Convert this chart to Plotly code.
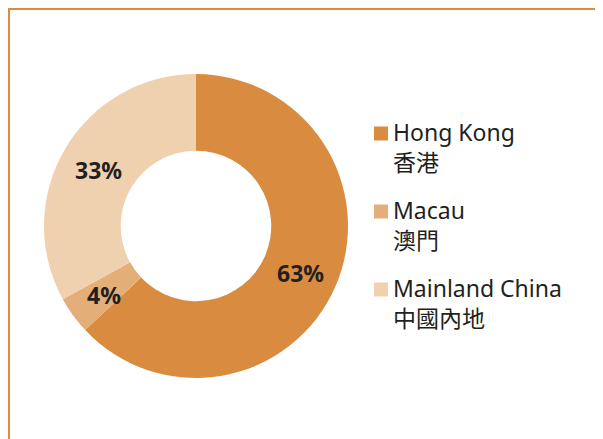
import math
import plotly.graph_objects as go

regions = ["Hong Kong", "Macau", "Mainland China"]
regions_zh = ["香港", "澳門", "中國內地"]
shares = [63, 4, 33]
colors = ["#D98C40", "#E3AE78", "#F0D1AF"]

# figure sits inside the page's 8px body margin
W, H = 595, 431
cx, cy, R = 188, 218, 152
HOLE = 0.495

fig = go.Figure(go.Pie(
    labels=regions,
    values=shares,
    hole=HOLE,
    sort=False,
    direction="clockwise",
    rotation=0,
    marker=dict(colors=colors, line=dict(width=0)),
    textinfo="none",
    domain=dict(x=[(cx - R) / W, (cx + R) / W], y=[1 - (cy + R) / H, 1 - (cy - R) / H]),
    hovertemplate="%{label}: %{value}%<extra></extra>",
    showlegend=False,
))

# percentage labels at the middle of each slice (derived from the data)
total = sum(shares)
rm = R * (1 + HOLE) / 2
cum = 0
for v in shares:
    a = 2 * math.pi * (cum + v / 2) / total
    cum += v
    px = cx + rm * math.sin(a)
    py = cy - rm * math.cos(a)
    fig.add_annotation(xref="paper", yref="paper", x=px / W, y=1 - py / H,
                       xanchor="center", yanchor="middle", yshift=-2,
                       text=f"{v}%", showarrow=False,
                       font=dict(family="Noto Sans", size=23, color="#231F20", weight="bold"))

bc = "#E08A3C"
fig.add_shape(type="line", xref="paper", yref="paper", x0=1 / W, x1=1 / W, y0=0, y1=1,
              line=dict(color=bc, width=2))
fig.add_shape(type="line", xref="paper", yref="paper", x0=0, x1=1, y0=1 - 1 / H, y1=1 - 1 / H,
              line=dict(color=bc, width=2))

# legend (swatch + English + Chinese)
lx, ly0, lstep = 366, 125.5, 78
for i, (en, zh, c) in enumerate(zip(regions, regions_zh, colors)):
    yc = ly0 + i * lstep
    fig.add_shape(type="rect", xref="paper", yref="paper",
                  x0=lx / W, x1=(lx + 14) / W, y0=1 - (yc + 7) / H, y1=1 - (yc - 7) / H,
                  fillcolor=c, line=dict(width=0))
    fig.add_annotation(xref="paper", yref="paper", x=(lx + 19) / W, y=1 - (yc - 17.5) / H,
                       xanchor="left", yanchor="top", showarrow=False, align="left",
                       borderpad=0, borderwidth=0,
                       text=f"{en}<br>{zh}",
                       font=dict(family="Noto Sans, Noto Sans CJK TC", size=23, color="#231F20"))

fig.update_layout(
    width=W, height=H,
    margin=dict(l=0, r=0, t=0, b=0),
    paper_bgcolor="white",
    plot_bgcolor="white",
    showlegend=False,
)

fig.write_html("out.html")
